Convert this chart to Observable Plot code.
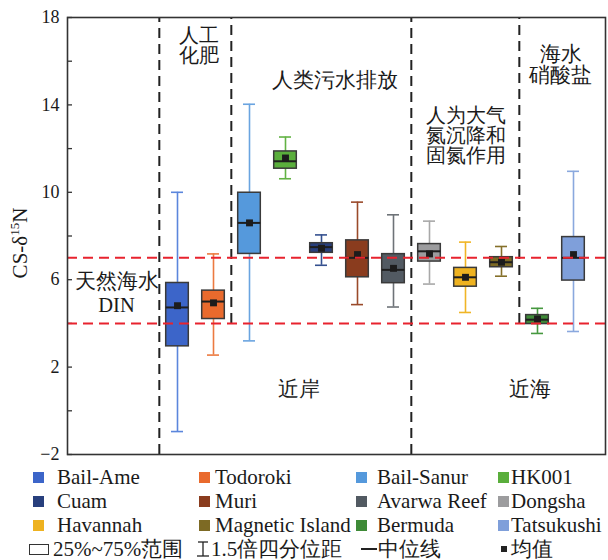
<!DOCTYPE html>
<html><head><meta charset="utf-8">
<script src="https://cdn.jsdelivr.net/npm/d3@7"></script>
<script src="https://cdn.jsdelivr.net/npm/@observablehq/plot@0.6"></script>
<style>
body{margin:0;background:#fff;}
#wrap{position:relative;width:608px;height:560px;font-family:"Liberation Serif","Times New Roman","DejaVu Serif",serif;color:#1a1a1a;overflow:hidden;}
#wrap svg{position:absolute;left:0;top:0;}
.lg{position:absolute;font-size:21px;line-height:20px;white-space:nowrap;}
.sw{position:absolute;width:11px;height:11px;}
#diag{position:absolute;left:300px;top:0;font:10px monospace;}
</style></head><body><div id="wrap"></div>
<script>
// ---- data ----
const sites = ["Bail-Ame","Todoroki","Bail-Sanur","HK001","Cuam","Muri","Avarwa Reef","Dongsha","Havannah","Magnetic Island","Bermuda","Tatsukushi"];
const whiskerLow  = [-0.95, 2.55, 3.2, 10.62, 6.66, 4.86, 4.75, 5.8, 4.5, 6.16, 3.54, 3.63];
const q1          = [2.95, 4.2, 7.18, 11.08, 7.23, 6.11, 5.84, 6.83, 5.68, 6.57, 3.97, 5.96];
const median      = [4.73, 5.0, 8.6, 11.42, 7.49, 7.0, 6.45, 7.3, 6.11, 6.8, 4.17, 7.0];
const q3          = [5.85, 5.5, 9.98, 11.87, 7.67, 7.8, 7.17, 7.63, 6.54, 7.03, 4.38, 7.95];
const whiskerHigh = [10.0, 7.18, 14.03, 12.53, 8.05, 9.55, 8.97, 8.68, 7.72, 7.52, 4.69, 10.96];
const mean        = [4.81, 4.94, 8.6, 11.57, 7.44, 7.15, 6.52, 7.18, 6.11, 6.8, 4.2, 7.15];
const boxColors = ["#3c65c9","#e96a2d","#5599dc","#5aae3c","#283f7d","#8a3c1e","#525a62","#9c9c9e","#eeb220","#7d6a24","#3e8a37","#7f9fda"];
const whiskerColors = ["#5b86dc","#ec7a40","#6aa4e0","#62b244","#34508f","#9a4a2a","#6e7378","#a8a8a8","#f0b526","#85702a","#46983f","#8aa8de"];
const yTicks = [-2, 2, 6, 10, 14, 18];
const yMinorTicks = [0, 4, 8, 12, 16];
const refLevels = [7, 4];
const separators = [
  {site: "Bail-Ame", y1: -2, y2: 18},
  {site: "Bail-Sanur", y1: 4, y2: 18},
  {site: "Dongsha", y1: -2, y2: 18},
  {site: "Bermuda", y1: 4, y2: 18}
];
const annotations = [
  {text: "人工\n化肥", site: "Bail-Ame", y: 16.71, dx: 21, lh: 1.0, fs: 19.5},
  {text: "人类污水排放", site: "Cuam", y: 15.13, dx: 13, lh: 1, fs: 20.5},
  {text: "人为大气\n氮沉降和\n固氮作用", site: "Havannah", y: 12.61, dx: 0, lh: 1.0, fs: 20},
  {text: "海水\n硝酸盐", site: "Tatsukushi", y: 15.84, dx: -13, lh: 1.05, fs: 20.5},
  {text: "天然海水\nDIN", site: "Bail-Ame", y: 5.41, dx: -61, lh: 1.18, fs: 20.5},
  {text: "近岸", site: "HK001", y: 1.0, dx: 13.5, lh: 1, fs: 20.5},
  {text: "近海", site: "Bermuda", y: 1.0, dx: -7.6, lh: 1, fs: 20.5}
];

const data = sites.map((s, i) => ({
  site: s, lo: whiskerLow[i], q1: q1[i], med: median[i], q3: q3[i], hi: whiskerHigh[i],
  mean: mean[i], fill: boxColors[i], wc: whiskerColors[i]
}));

const font = "'Liberation Serif', 'Times New Roman', 'DejaVu Serif', serif";
const bandLo = 156.8, bandHi = 593.2;
const half = (bandHi - bandLo) / sites.length / 2;

const plot = Plot.plot({
  width: 608, height: 463,
  marginTop: 17, marginBottom: 9, marginLeft: 67, marginRight: 3,
  x: {type: "band", domain: sites, range: [bandLo, bandHi], padding: 0, axis: null},
  y: {domain: [-2, 18]},
  color: {type: "identity"},
  style: {fontFamily: font, fontSize: "18px", color: "#1a1a1a", background: "white"},
  marks: [
    Plot.axisY({ticks: yTicks, tickSize: 0, tickPadding: 8, fontSize: 18, fontFamily: font, label: null, fill: "#1a1a1a"}),
    Plot.axisY({ticks: [...yTicks, ...yMinorTicks], tickSize: 5, text: null, dx: 5, label: null, stroke: "#333", strokeWidth: 1.3}),
    Plot.ruleX(separators, {x: "site", y1: "y1", y2: "y2", dx: -half, stroke: "#222", strokeWidth: 2, strokeDasharray: "10,6"}),
    Plot.ruleX(data, {x: "site", y1: "lo", y2: "hi", stroke: "wc", strokeWidth: 1.6}),
    Plot.tickY(data, {x: "site", y: "hi", stroke: "wc", strokeWidth: 1.6, insetLeft: 12, insetRight: 12}),
    Plot.tickY(data, {x: "site", y: "lo", stroke: "wc", strokeWidth: 1.6, insetLeft: 12, insetRight: 12}),
    Plot.barY(data, {x: "site", y1: "q1", y2: "q3", fill: "fill", stroke: "#3a3a3a", strokeWidth: 1.5, insetLeft: 6.7, insetRight: 6.7}),
    Plot.tickY(data, {x: "site", y: "med", stroke: "#1e1e1e", strokeWidth: 2, insetLeft: 6.7, insetRight: 6.7}),
    Plot.dot(data, {x: "site", y: "mean", symbol: "square", r: 3.9, fill: "#1c1c1c", stroke: "none"}),
    Plot.ruleY(refLevels, {stroke: "#e8232e", strokeWidth: 2, strokeDasharray: "10,6"}),
    ...annotations.map(a => Plot.text([a], {
      x: "site", y: "y", text: "text", dx: a.dx, lineHeight: a.lh,
      fontSize: a.fs, fontFamily: font, fill: "#1a1a1a", textAnchor: "middle", lineAnchor: "middle"
    })),
    Plot.frame({stroke: "#333", strokeWidth: 1.6})
  ]
});

const wrap = document.getElementById("wrap");
wrap.appendChild(plot);

// y axis label with superscript
const svg = d3.select(plot);
const t = svg.append("text")
  .attr("transform", "translate(27,243) rotate(-90)")
  .attr("text-anchor", "middle")
  .attr("font-family", font)
  .attr("font-size", 21)
  .attr("fill", "#1a1a1a");
t.append("tspan").text("CS-δ");
t.append("tspan").attr("font-size", 13).attr("dy", -8).text("15");
t.append("tspan").attr("dy", 8).text("N");

// ---- legend (HTML, below the SVG) ----
const colSwatchX = [33, 199, 356, 498];
const colTextX = [57, 215, 377, 511];
const rowCenterY = [477, 501, 525];
sites.forEach((s, i) => {
  const r = Math.floor(i / 4), c = i % 4;
  const sw = document.createElement("div");
  sw.className = "sw";
  sw.style.left = colSwatchX[c] + "px";
  sw.style.top = (rowCenterY[r] - 5.5) + "px";
  sw.style.background = boxColors[i];
  wrap.appendChild(sw);
  const tx = document.createElement("div");
  tx.className = "lg";
  tx.style.left = colTextX[c] + "px";
  tx.style.top = (rowCenterY[r] - 10) + "px";
  tx.textContent = s;
  wrap.appendChild(tx);
});

// bottom row: box-plot element key
const keyY = 549;
function addDiv(css, text) {
  const d = document.createElement("div");
  d.style.position = "absolute";
  Object.assign(d.style, css);
  if (text) { d.className = "lg"; d.textContent = text; }
  wrap.appendChild(d);
}
addDiv({left: "29px", top: (keyY - 5.5) + "px", width: "18px", height: "9px", border: "1.5px solid #333", boxSizing: "content-box"});
addDiv({left: "53px", top: (keyY - 10) + "px"}, "25%~75%范围");
wrap.insertAdjacentHTML("beforeend",
  `<svg width="14" height="16" style="position:absolute;left:196px;top:${keyY - 8}px">
     <line x1="2" y1="1" x2="12" y2="1" stroke="#222" stroke-width="1.3"/>
     <line x1="7" y1="1" x2="7" y2="15" stroke="#222" stroke-width="1.3"/>
     <line x1="1" y1="15" x2="13" y2="15" stroke="#222" stroke-width="1.3"/>
   </svg>`);
addDiv({left: "211px", top: (keyY - 10) + "px"}, "1.5倍四分位距");
addDiv({left: "361px", top: (keyY - 1) + "px", width: "16px", height: "1.5px", background: "#222"});
addDiv({left: "378px", top: (keyY - 10) + "px"}, "中位线");
addDiv({left: "501px", top: (keyY - 3) + "px", width: "6px", height: "6px", background: "#222"});
addDiv({left: "511px", top: (keyY - 10) + "px"}, "均值");
</script></body></html>
